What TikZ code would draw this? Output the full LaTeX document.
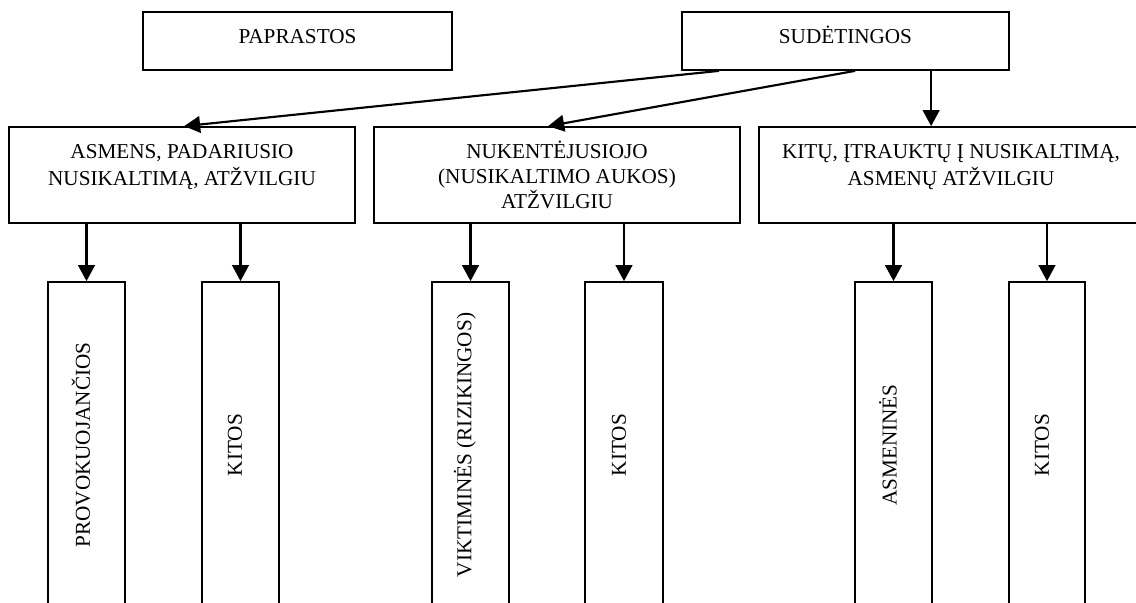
\documentclass[tikz,border=0pt]{standalone}
\usepackage{fontspec}
\setmainfont{Liberation Serif}
\usetikzlibrary{arrows.meta,fit,calc}
\tikzset{
  box/.style={draw, line width=1.3pt, inner sep=0pt, fit={#1}},
  lbl/.style={inner sep=0pt, align=center, anchor=north, font=\fontsize{15.9}{18.75}\selectfont},
  vlbl/.style={inner sep=0pt, rotate=90, font=\fontsize{15.9}{18.75}\selectfont},
  arr/.style={line width=1.6pt, -{Triangle[width=12.5pt,length=12pt]}}
}
\begin{document}
\begin{tikzpicture}[x=0.75pt,y=-0.75pt]
\fill[white] (0,0) rectangle (1136,603);
\path[use as bounding box, clip] (0,0) rectangle (1136,603);
% top boxes
\node[box={(143,12) (452,70)}] (p) {};
\node[box={(682,12) (1009,70)}] (s) {};
\node[lbl] (pt) at (297.5,25.5) {\strut PAPRASTOS};
\node[lbl] (st) at (845.5,25.5) {\strut SUDĖTINGOS};
% middle boxes
\node[box={(9,127) (355,223)}] (m1) {};
\node[box={(374,127) (740,223)}] (m2) {};
\node[box={(759,127) (1141,223)}] (m3) {};
\node[lbl] (m1t) at (182,140.5) {\strut ASMENS, PADARIUSIO\\NUSIKALTIMĄ, ATŽVILGIU};
\node[lbl] (m2t) at (557,140.5) {\strut NUKENTĖJUSIOJO\\(NUSIKALTIMO AUKOS)\\ATŽVILGIU};
\node[lbl] (m3t) at (951,140.5) {\strut KITŲ, ĮTRAUKTŲ Į NUSIKALTIMĄ,\\ASMENŲ ATŽVILGIU};
% bottom boxes
\node[box={(48,282) (125,650)}] (b1) {};
\node[box={(202,282) (279,650)}] (b2) {};
\node[box={(432,282) (509,650)}] (b3) {};
\node[box={(585,282) (663,650)}] (b4) {};
\node[box={(855,282) (932,650)}] (b5) {};
\node[box={(1009,282) (1085,650)}] (b6) {};
\node[vlbl] (b1t) at (81,445) {PROVOKUOJANČIOS};
\node[vlbl] (b2t) at (235,445) {KITOS};
\node[vlbl] (b3t) at (465,445) {VIKTIMINĖS (RIZIKINGOS)};
\node[vlbl] (b4t) at (619,445) {KITOS};
\node[vlbl] (b5t) at (888,445) {ASMENINĖS};
\node[vlbl] (b6t) at (1042,445) {KITOS};
% connectors
\draw[arr] ($(s.south west)+(38,0)$) -- ($(m1.north west)+(176,0)$);
\draw[arr] ($(s.south west)+(174,0)$) -- ($(m2.north west)+(175,0)$);
\draw[arr] ($(s.south west)+(250,0)$) -- ($(m3.north west)+(173,0)$);
\draw[arr] (m1.south -| b1.north) -- (b1.north);
\draw[arr] (m1.south -| b2.north) -- (b2.north);
\draw[arr] (m2.south -| b3.north) -- (b3.north);
\draw[arr] (m2.south -| b4.north) -- (b4.north);
\draw[arr] (m3.south -| b5.north) -- (b5.north);
\draw[arr] (m3.south -| b6.north) -- (b6.north);
\end{tikzpicture}
\end{document}
